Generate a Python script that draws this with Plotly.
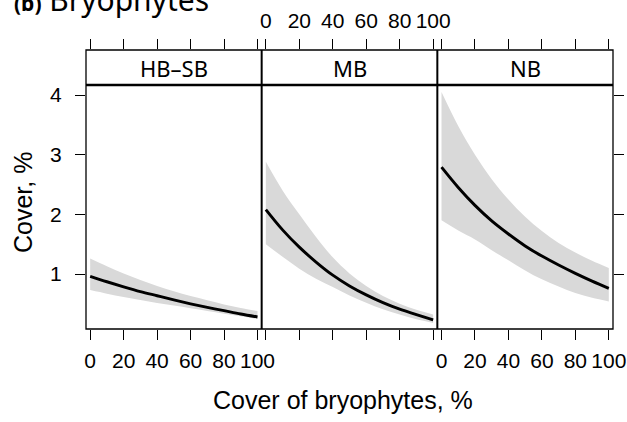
import plotly.graph_objects as go

# ---------------- data ----------------
x_vals = [0, 10, 20, 30, 40, 50, 60, 70, 80, 90, 100]
panels = ["HB–SB", "MB", "NB"]

fit_hbsb = [0.96, 0.87, 0.785, 0.705, 0.635, 0.565, 0.50, 0.44, 0.385, 0.33, 0.28]
lo_hbsb = [0.73, 0.67, 0.615, 0.565, 0.515, 0.47, 0.425, 0.38, 0.335, 0.29, 0.245]
up_hbsb = [1.26, 1.13, 1.01, 0.90, 0.80, 0.71, 0.63, 0.56, 0.49, 0.43, 0.38]

fit_mb = [2.08, 1.74, 1.45, 1.20, 0.98, 0.80, 0.65, 0.52, 0.41, 0.32, 0.23]
lo_mb = [1.50, 1.29, 1.09, 0.92, 0.78, 0.64, 0.52, 0.41, 0.32, 0.24, 0.18]
up_mb = [2.88, 2.40, 2.00, 1.62, 1.28, 1.01, 0.80, 0.63, 0.50, 0.40, 0.32]

fit_nb = [2.79, 2.45, 2.15, 1.89, 1.67, 1.47, 1.30, 1.15, 1.01, 0.88, 0.76]
lo_nb = [1.90, 1.73, 1.58, 1.40, 1.23, 1.06, 0.91, 0.79, 0.68, 0.60, 0.54]
up_nb = [4.05, 3.48, 3.00, 2.59, 2.25, 1.96, 1.72, 1.52, 1.36, 1.22, 1.10]

x_ticks = [0, 20, 40, 60, 80, 100]
x_ticklabels = ["0", "20", "40", "60", "80", "100"]
y_ticks = [1, 2, 3, 4]
y_ticklabels = ["1", "2", "3", "4"]

title_text = "(b)"
title_main = "Bryophytes"
x_title = "Cover of bryophytes, %"
y_title = "Cover, %"

# ---------------- figure ----------------
W, H = 627, 422
ML, MR, MT, MB = 86, 14, 50, 93
plot_h = H - MT - MB
d = (plot_h - 35) / plot_h  # panel share of vertical domain (strip is 35 px)

sans = "Liberation Sans, Arial, sans-serif"
noto = "Noto Sans, Open Sans, DejaVu Sans, sans-serif"
band_col = "#d9d9d9"

fig = go.Figure()
series = [(fit_hbsb, lo_hbsb, up_hbsb), (fit_mb, lo_mb, up_mb), (fit_nb, lo_nb, up_nb)]
for i, (fit, lo, up) in enumerate(series):
    xa = "x" if i == 0 else f"x{i+1}"
    fig.add_trace(go.Scatter(x=x_vals, y=lo, xaxis=xa, yaxis="y", mode="lines",
                             line=dict(width=0, shape="spline", color=band_col),
                             showlegend=False, hoverinfo="skip"))
    fig.add_trace(go.Scatter(x=x_vals, y=up, xaxis=xa, yaxis="y", mode="lines",
                             line=dict(width=0, shape="spline", color=band_col),
                             fill="tonexty", fillcolor=band_col,
                             showlegend=False, hoverinfo="skip"))
    fig.add_trace(go.Scatter(x=x_vals, y=fit, xaxis=xa, yaxis="y", mode="lines",
                             line=dict(width=2.9, shape="spline", color="black"),
                             showlegend=False))

# dummy traces to create the top (strip) axes and the right y axis
for xa in ["x4", "x5", "x6"]:
    fig.add_trace(go.Scatter(x=[None], y=[None], xaxis=xa, yaxis="y2",
                             showlegend=False, hoverinfo="skip"))
fig.add_trace(go.Scatter(x=[None], y=[None], xaxis="x3", yaxis="y3",
                         showlegend=False, hoverinfo="skip"))

tickfont = dict(family=sans, size=21, color="black")
xcommon = dict(range=[-2.5, 102.5], tickmode="array", tickvals=x_ticks, ticktext=x_ticklabels,
               ticks="outside", ticklen=10, tickwidth=1, tickcolor="black",
               showgrid=False, zeroline=False, showline=False, tickangle=0,
               tickfont=tickfont, fixedrange=True, automargin=False, ticklabelstandoff=3)
doms = [[0, 1/3], [1/3, 2/3], [2/3, 1]]

layout = dict(
    width=W, height=H,
    margin=dict(l=ML, r=MR, t=MT, b=MB, pad=0, autoexpand=False),
    paper_bgcolor="white", plot_bgcolor="white",
    showlegend=False,
    xaxis=dict(xcommon, domain=doms[0], anchor="y", showticklabels=True),
    xaxis2=dict(xcommon, domain=doms[1], anchor="y", showticklabels=False),
    xaxis3=dict(xcommon, domain=doms[2], anchor="y", showticklabels=True),
    xaxis4=dict(xcommon, domain=doms[0], anchor="y2", side="top", showticklabels=False),
    xaxis5=dict(xcommon, domain=doms[1], anchor="y2", side="top", showticklabels=True),
    xaxis6=dict(xcommon, domain=doms[2], anchor="y2", side="top", showticklabels=False),
    yaxis=dict(domain=[0, d], anchor="x", range=[0.078, 4.168], tickmode="array",
               tickvals=y_ticks, ticktext=y_ticklabels, ticks="outside", ticklen=10,
               tickwidth=1, tickcolor="black", showgrid=False, zeroline=False,
               showline=False, tickfont=tickfont, ticklabelstandoff=9, fixedrange=True,
               automargin=False),
    yaxis2=dict(domain=[d, 1], anchor="x4", range=[0, 1], visible=False, fixedrange=True,
                automargin=False),
    yaxis3=dict(overlaying="y", anchor="x3", side="right", range=[0.078, 4.168],
                tickmode="array", tickvals=y_ticks, ticks="outside", ticklen=10,
                tickwidth=1, tickcolor="black", showticklabels=False, showgrid=False,
                zeroline=False, showline=False, fixedrange=True, automargin=False),
)
fig.update_layout(**layout)

# borders: outer box, strip/panel separator, panel separators
shapes = [
    dict(type="rect", xref="paper", yref="paper", x0=0, x1=1, y0=0, y1=1,
         line=dict(color="black", width=1.3)),
    dict(type="line", xref="paper", yref="paper", x0=0, x1=1, y0=d, y1=d,
         line=dict(color="black", width=2.3)),
    dict(type="line", xref="paper", yref="paper", x0=1/3, x1=1/3, y0=0, y1=1,
         line=dict(color="black", width=2)),
    dict(type="line", xref="paper", yref="paper", x0=2/3, x1=2/3, y0=0, y1=1,
         line=dict(color="black", width=2)),
]
fig.update_layout(shapes=shapes)

ann = []
for i, name in enumerate(panels):
    ann.append(dict(text=name, xref="paper", yref="paper", x=(doms[i][0] + doms[i][1]) / 2,
                    y=(1 + d) / 2, xanchor="center", yanchor="middle", showarrow=False,
                    font=dict(family=noto, size=22, color="black")))
# axis titles
pw = W - ML - MR
ann.append(dict(text=x_title, xref="paper", yref="paper", x=(343 - ML) / pw,
                y=-(400 - (MT + plot_h)) / plot_h, xanchor="center", yanchor="middle",
                showarrow=False, font=dict(family=sans, size=25, color="black")))
ann.append(dict(text=y_title, xref="paper", yref="paper", x=(23 - ML) / pw,
                y=1 - (203 - MT) / plot_h, xanchor="center", yanchor="middle",
                textangle=-90, showarrow=False,
                font=dict(family=sans, size=25, color="black")))
# panel title (partly cut off at the top, as in the reference)
ann.append(dict(text=f"<b><span style='font-size:21px'>{title_text}</span></b> {title_main}",
                xref="paper", yref="paper", x=(12 - ML) / pw, y=1 + (MT - 22) / plot_h,
                xanchor="left", yanchor="bottom", showarrow=False,
                font=dict(family=noto, size=30, color="black")))
fig.update_layout(annotations=ann)

fig.write_html("out.html", config={"displayModeBar": False},
               post_script="document.body.style.margin='0';")
